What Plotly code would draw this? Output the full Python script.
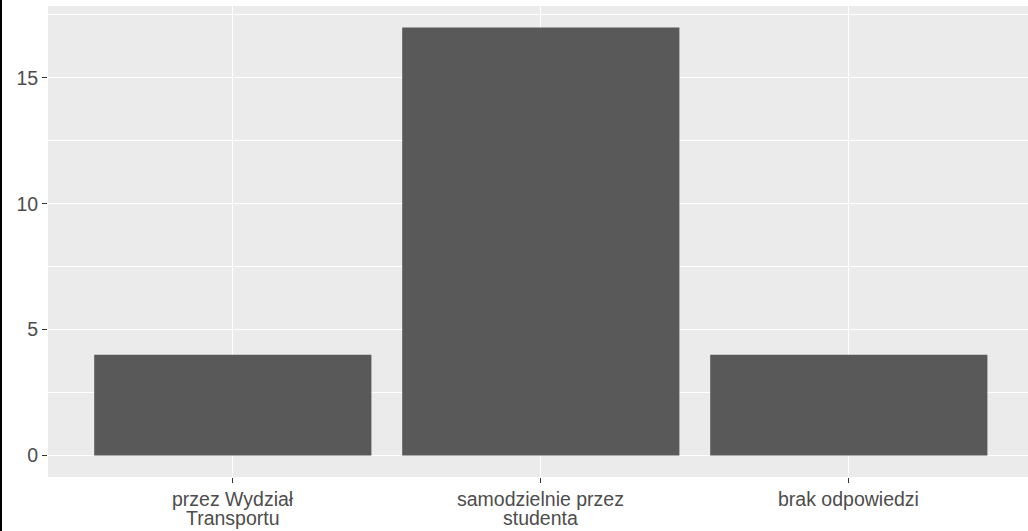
import plotly.graph_objects as go

categories = ["przez Wydział<br>Transportu", "samodzielnie przez<br>studenta", "brak odpowiedzi"]
counts = [4, 17, 4]
y_ticks = [0, 5, 10, 15]

W, H = 1028, 531
L, T, B = 48, 6, 54
plot_w = W - L
plot_h = H - T - B

fig = go.Figure()
fig.add_trace(go.Bar(
    x=categories, y=counts, width=0.9,
    marker=dict(color="#595959", line=dict(width=0)),
    hoverinfo="skip",
))

font = dict(family="Liberation Sans, Arial, sans-serif", size=19.5, color="#4d4d4d")

# x tick labels as per-line annotations (tighter line spacing like the reference)
line_tops = [487, 506]  # pixel y of each line's top
annotations = []
for cat in categories:
    for i, line in enumerate(cat.split("<br>")):
        annotations.append(dict(
            x=cat, xref="x", y=(T + plot_h - line_tops[i]) / plot_h, yref="paper",
            text=line, showarrow=False, xanchor="center", yanchor="top",
            font=font, borderpad=0,
        ))

fig.update_layout(
    width=W, height=H,
    margin=dict(l=L, r=0, t=T, b=B, pad=0),
    paper_bgcolor="white",
    plot_bgcolor="#ebebeb",
    showlegend=False,
    bargap=0.1,
    font=font,
    xaxis=dict(
        type="category", automargin=False,
        range=[-0.6, -0.6 + plot_w / 308.0],
        showgrid=True, gridcolor="white", gridwidth=1.4,
        ticks="outside", ticklen=5, tickwidth=1.1, tickcolor="#333333",
        showticklabels=False, zeroline=False, showline=False,
    ),
    yaxis=dict(
        automargin=False,
        range=[-0.85, 17.85],
        tickvals=y_ticks, ticktext=[str(v) for v in y_ticks],
        showgrid=True, gridcolor="white", gridwidth=1.4,
        minor=dict(tickvals=[2.5, 7.5, 12.5, 17.5], showgrid=True, gridcolor="white", gridwidth=0.7, ticks=""),
        ticks="outside", ticklen=5, tickwidth=1.1, tickcolor="#333333",
        tickfont=font, zeroline=False, showline=False,
    ),
    annotations=annotations,
    shapes=[dict(
        type="line", xref="paper", yref="paper",
        x0=-(L - 1) / plot_w, x1=-(L - 1) / plot_w,
        y0=-B / plot_h, y1=1 + T / plot_h,
        line=dict(color="black", width=2),
    )],
)

fig.write_html(
    "out.html",
    config={"displayModeBar": False},
    post_script="document.body.style.margin='0';document.body.style.overflow='hidden';",
)
